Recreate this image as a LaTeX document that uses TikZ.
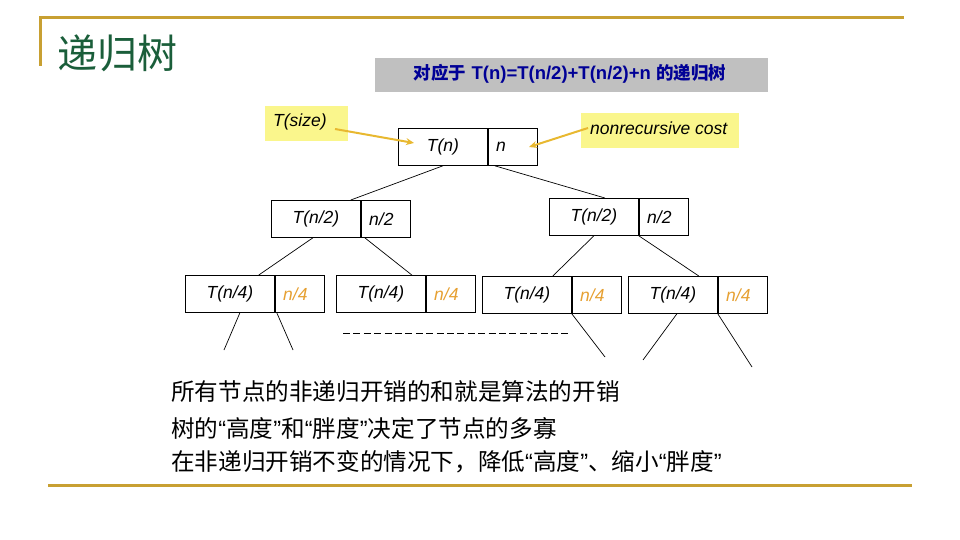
\documentclass[tikz,border=0pt]{standalone}
\usepackage{fontspec}
\setmainfont{Liberation Sans}
\newfontfamily\cjk{Noto Sans CJK SC}
\usetikzlibrary{arrows.meta}
\definecolor{gold}{RGB}{200,160,50}
\definecolor{titlegreen}{RGB}{26,94,58}
\definecolor{hdrgray}{RGB}{192,192,192}
\definecolor{hdrblue}{RGB}{0,0,150}
\definecolor{noteyellow}{RGB}{250,246,140}
\definecolor{arrowgold}{RGB}{232,184,48}
\definecolor{costorange}{RGB}{230,160,50}
\newcommand\myoq{{\rmfamily “}}
\newcommand\mycq{{\rmfamily ”}}
\begin{document}
\begin{tikzpicture}[x=1pt,y=-1pt,
  treefont/.style={font=\fontsize{17.5}{20}\selectfont\itshape},
  cellL/.style={draw=black, line width=0.8pt, minimum width=89pt, minimum height=37pt,
    anchor=north west, inner sep=0pt, treefont},
  cellR/.style={draw=black, line width=0.8pt, minimum height=37pt, anchor=north west,
    inner xsep=8pt, inner ysep=0pt, text width=33pt, align=left, treefont},
  cost/.style={text=costorange},
  treeedge/.style={line width=0.7pt},
  note/.style={fill=noteyellow, inner sep=0pt, anchor=north west},
  notearrow/.style={draw=arrowgold, line width=2pt, -{Stealth[length=8pt,width=7pt]}},
  rule/.style={draw=gold, line width=3pt},
  bodytext/.style={anchor=west, inner sep=0pt, font=\cjk\fontsize{23.6}{26}\selectfont}
]
\useasboundingbox (0,0) rectangle (960,540);

% frame rules
\draw[rule] (39,18) -- (904,18);
\draw[rule] (40.5,18) -- (40.5,66);
\draw[rule] (48,485.5) -- (912,485.5);

% title
\node[anchor=west, inner sep=0pt, text=titlegreen, font=\cjk\fontsize{40}{44}\selectfont] (title) at (57,53) {递归树};

% header
\node[fill=hdrgray, minimum width=393pt, minimum height=34pt, inner sep=0pt, anchor=north west] (hdrbox) at (375,58) {};
\node[text=hdrblue, inner sep=0pt, font=\bfseries\fontsize{18.5}{20}\selectfont] (hdr) at (570,74)
  {{\cjk\fontsize{17.5}{20}\selectfont 对应于} T(n)=T(n/2)+T(n/2)+n {\cjk\fontsize{17.5}{20}\selectfont 的递归树}};

% notes
\node[note, minimum width=83pt, minimum height=35pt] (tsize) at (265,106) {};
\node[anchor=west, inner sep=0pt, treefont] (tsizetext) at (273,122) {T(size)};
\node[note, minimum width=158pt, minimum height=35pt] (nrc) at (581,113) {};
\node[anchor=west, inner sep=0pt, treefont] (nrctext) at (590,128) {nonrecursive cost};

% tree level 0
\node[cellL] (r0L) at (398,128) {T(n)};
\node[cellR] (r0R) at (r0L.north east) {n};
% level 1
\node[cellL] (aL) at (271,200) {T(n/2)};
\node[cellR] (aR) at (aL.north east) {n/2};
\node[cellL] (bL) at (549,198) {T(n/2)};
\node[cellR] (bR) at (bL.north east) {n/2};
% level 2
\node[cellL] (cL) at (185,275) {T(n/4)};
\node[cellR, cost] (cR) at (cL.north east) {n/4};
\node[cellL] (dL) at (336,275) {T(n/4)};
\node[cellR, cost] (dR) at (dL.north east) {n/4};
\node[cellL] (eL) at (482,276) {T(n/4)};
\node[cellR, cost] (eR) at (eL.north east) {n/4};
\node[cellL] (fL) at (628,276) {T(n/4)};
\node[cellR, cost] (fR) at (fL.north east) {n/4};

% note arrows
\coordinate (tsizeS) at (335,129);
\coordinate (tsizeE) at (414,143);
\coordinate (nrcS) at (588,128);
\coordinate (nrcE) at (529,147);
\draw[notearrow] (tsizeS) -- (tsizeE);
\draw[notearrow] (nrcS) -- (nrcE);

% tree edges
\draw[treeedge] (r0L.south) -- ([xshift=-10pt]aL.north east);
\draw[treeedge] ([xshift=7pt]r0R.south west) -- ([xshift=11pt]bL.north);
\draw[treeedge] ([xshift=-3pt]aL.south) -- ([xshift=-16pt]cL.north east);
\draw[treeedge] ([xshift=4pt]aL.south east) -- ([xshift=-14pt]dL.north east);
\draw[treeedge] (bL.south) -- ([xshift=-19pt]eL.north east);
\draw[treeedge] (bL.south east) -- ([xshift=-19pt]fL.north east);

% dangling edges
\coordinate (c1) at (224,350);
\coordinate (c2) at (293,350);
\coordinate (e2) at (605,357);
\coordinate (f1) at (643,360);
\coordinate (f2) at (752,367);
\draw[treeedge] ([xshift=10pt]cL.south) -- (c1);
\draw[treeedge] ([xshift=2pt]cL.south east) -- (c2);
\draw[treeedge] (eL.south east) -- (e2);
\draw[treeedge] ([xshift=4pt]fL.south) -- (f1);
\draw[treeedge] (fL.south east) -- (f2);

% dashed ellipsis line
\coordinate (dashA) at (343,333);
\coordinate (dashB) at (571,333);
\draw[line width=0.7pt, dash pattern=on 7pt off 3.4pt] (dashA) -- (dashB);

% body text
\node[bodytext] (line1) at (171,392) {所有节点的非递归开销的和就是算法的开销};
\node[bodytext] (line2) at (171,428) {树的\myoq 高度\mycq 和\myoq 胖度\mycq 决定了节点的多寡};
\node[bodytext] (line3) at (171,462) {在非递归开销不变的情况下，降低\myoq 高度\mycq 、缩小\myoq 胖度\mycq};
\end{tikzpicture}
\end{document}
